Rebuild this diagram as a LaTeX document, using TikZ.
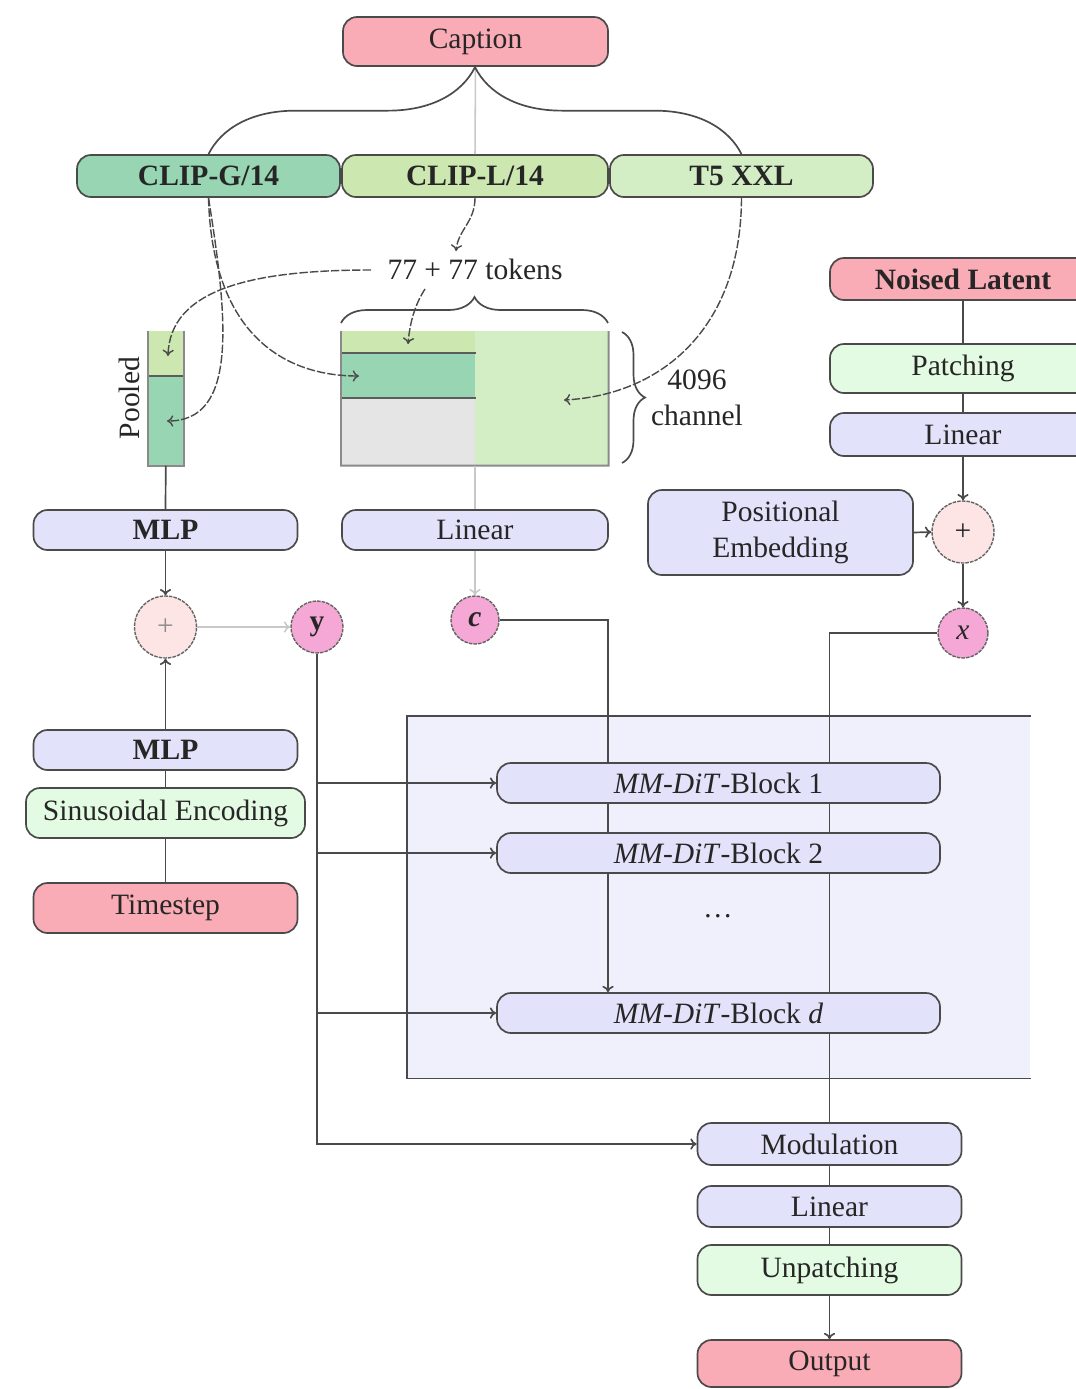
\documentclass[tikz,border=0pt]{standalone}
\usepackage{fontspec}
\setmainfont{Liberation Serif}
\usetikzlibrary{arrows.meta,decorations.pathreplacing}

\definecolor{edge}{HTML}{4A4A4A}
\definecolor{lightedge}{HTML}{C8C8C8}
\definecolor{pinkc}{HTML}{F9ABB6}
\definecolor{lavc}{HTML}{E2E3FA}
\definecolor{grnc}{HTML}{E3FBE3}
\definecolor{clipgc}{HTML}{97D5B3}
\definecolor{cliplc}{HTML}{CDE7B0}
\definecolor{tfivec}{HTML}{D3EDC5}
\definecolor{padc}{HTML}{E5E5E5}
\definecolor{ditc}{HTML}{EFF0FC}
\definecolor{circc}{HTML}{F5A8D5}
\definecolor{plusc}{HTML}{FDE5E6}
\definecolor{framec}{HTML}{8A8A8A}

\newdimen\pu
\pu=0.025cm

\tikzset{
  every node/.style={font=\fontsize{21}{26}\selectfont, text=black!85},
  blk/.style={draw=edge, line width=1.2pt, rounded corners=0.35cm, inner sep=0pt},
  pinkbox/.style={blk, fill=pinkc},
  lavbox/.style={blk, fill=lavc},
  grnbox/.style={blk, fill=grnc},
  bf/.style={font=\fontsize{21}{26}\selectfont\bfseries},
  circ/.style={circle, draw=edge!85, line width=1pt, dash pattern=on 2.5pt off 0.8pt, inner sep=0pt},
  cell/.style={inner sep=0pt, anchor=north west},
  conn/.style={draw=edge, line width=1.2pt},
  lightconn/.style={draw=lightedge, line width=1.1pt},
  dashconn/.style={draw=edge, line width=1pt, dash pattern=on 6pt off 1.5pt},
  cellframe/.style={draw=framec, line width=1.4pt},
  cellsep/.style={draw=edge!90, line width=1.6pt},
  >={To[length=4.5pt,width=8pt]}
}

\begin{document}
\begin{tikzpicture}[x=0.025cm, y=-0.025cm]
\useasboundingbox (0,0) rectangle (1076,1389);
\clip (0,0) rectangle (1076,1389);

% ---------- background panel of the transformer blocks
\node[cell, fill=ditc, minimum width=623\pu, minimum height=362\pu] (dit) at (407,716) {};
\draw[conn] (dit.north east) -- (dit.north west) -- (dit.south west) -- (dit.south east);

% ---------- text encoders
\node[pinkbox, minimum width=265\pu, minimum height=49\pu] (caption) at (475.5,41.5) {Caption};
\node[blk, fill=clipgc, bf, minimum width=263\pu, minimum height=42\pu] (clipg) at (208.5,176) {CLIP-G/14};
\node[blk, fill=cliplc, bf, minimum width=266\pu, minimum height=42\pu] (clipl) at (475,176) {CLIP-L/14};
\node[blk, fill=tfivec, bf, minimum width=263\pu, minimum height=42\pu] (tfive) at (741.5,176) {T5 XXL};

\draw[lightconn] (caption.south) -- (clipl.north);
\draw[conn, decorate, decoration={brace, amplitude=87\pu}] (clipg.north) -- (tfive.north);

% ---------- token matrix
\node[cell, fill=tfivec, minimum width=133\pu, minimum height=134\pu] (tokT) at (475,331) {};
\node[cell, fill=cliplc, minimum width=134\pu, minimum height=22\pu] (tokL) at (341,331) {};
\node[cell, fill=clipgc, minimum width=134\pu, minimum height=45\pu] (tokG) at (341,353) {};
\node[cell, fill=padc, minimum width=134\pu, minimum height=67\pu] (tokP) at (341,398) {};
\draw[cellsep] (tokG.north west) -- (tokG.north east);
\draw[cellsep] (tokP.north west) -- (tokP.north east);
\draw[cellframe] (tokL.north west) -- (tokP.south west) -- (tokT.south east) -- (tokT.north east);

\draw[conn, decorate, decoration={brace, amplitude=26\pu}] (341,323) -- (608,323);
\draw[conn, decorate, decoration={brace, amplitude=23\pu}] (622,332) -- (622,463);
\node[align=center] (chan) at (697,398) {4096\\channel};
\node (tok) at (475,269) {77 + 77 tokens};

% ---------- pooled vector
\node[cell, fill=cliplc, minimum width=35\pu, minimum height=45\pu] (poolL) at (148,331) {};
\node[cell, fill=clipgc, minimum width=35\pu, minimum height=89\pu] (poolG) at (148,376) {};
\draw[cellsep] (poolG.north west) -- (poolG.north east);
\draw[cellframe] (poolL.north west) -- (poolG.south west) -- (poolG.south east) -- (poolL.north east);
\node[rotate=90] (poollbl) at (129,398) {Pooled};

% ---------- routing of encoder outputs
\coordinate (gIn) at (359,376);
\coordinate (tIn) at (564,400);
\coordinate (pTop) at (168,356);
\coordinate (pBot) at (167,421);
\coordinate (tokTop) at (456,251);
\coordinate (tokBot) at (425,289);
\coordinate (tokW) at (371,270);
\coordinate (lIn) at (408,344);
\draw[dashconn, ->] (clipg.south) .. controls (212,330) and (280,376) .. (gIn);
\draw[dashconn, ->] (clipg.south) .. controls (228,320) and (238,421) .. (pBot);
\draw[dashconn, ->] (tfive.south) .. controls (741,330) and (660,395) .. (tIn);
\draw[dashconn, ->] (clipl.south) .. controls (475,222) and (458,230) .. (tokTop);
\draw[dashconn, ->] (tokW) .. controls (250,270) and (170,290) .. (pTop);
\draw[dashconn, ->] (tokBot) .. controls (416,303) and (410,320) .. (lIn);

% ---------- pooled / timestep branch
\node[lavbox, bf, minimum width=264\pu, minimum height=40\pu] (mlpa) at (165.5,530) {MLP};
\node[circ, fill=plusc, minimum size=62\pu, text=black!45] (plusa) at (165.5,627) {+};
\node[circ, fill=circc, minimum size=52\pu] (yv) at (317,627) {\textbf{y}};
\node[lavbox, bf, minimum width=264\pu, minimum height=40\pu] (mlpb) at (165.5,750) {MLP};
\node[grnbox, minimum width=279\pu, minimum height=50\pu] (sinus) at (165.5,813) {Sinusoidal Encoding};
\node[pinkbox, minimum width=264\pu, minimum height=50\pu] (tstep) at (165.5,908) {Timestep};

\draw[conn] (poolG.south) -- (mlpa.north);
\draw[conn, ->] (mlpa.south) -- (plusa.north);
\draw[conn, ->] (mlpb.north) -- (plusa.south);
\draw[conn] (sinus.north) -- (mlpb.south);
\draw[conn] (tstep.north) -- (sinus.south);
\draw[lightconn, ->] (plusa.east) -- (yv.west);

% ---------- context branch
\node[lavbox, minimum width=266\pu, minimum height=40\pu] (linc) at (475,530) {Linear};
\node[circ, fill=circc, minimum size=48\pu] (cv) at (475,620) {\textbf{\textit{c}}};
\draw[lightconn] (tokT.south west) -- (linc.north);
\draw[lightconn, ->] (linc.south) -- (cv.north);

% ---------- latent branch
\node[pinkbox, bf, minimum width=266\pu, minimum height=42\pu] (noised) at (963,279) {Noised Latent};
\node[grnbox, minimum width=266\pu, minimum height=49\pu] (patch) at (963,368.5) {Patching};
\node[lavbox, minimum width=266\pu, minimum height=43\pu] (linx) at (963,434.5) {Linear};
\node[circ, fill=plusc, minimum size=62\pu] (plusb) at (963,532) {+};
\node[lavbox, align=center, minimum width=265\pu, minimum height=85\pu] (pe) at (780.5,532.5) {Positional\\Embedding};
\node[circ, fill=circc, minimum size=50\pu] (xv) at (963,633) {\textit{x}};

\draw[conn] (noised.south) -- (patch.north);
\draw[conn] (patch.south) -- (linx.north);
\draw[conn, ->] (linx.south) -- (plusb.north);
\draw[conn, ->] (pe.east) -- (plusb.west);
\draw[conn, ->] (plusb.south) -- (xv.north);

% ---------- transformer blocks
\node[lavbox, minimum width=443\pu, minimum height=40\pu] (ba) at (718.5,783) {\textit{MM-DiT}-Block 1};
\node[lavbox, minimum width=443\pu, minimum height=40\pu] (bb) at (718.5,853) {\textit{MM-DiT}-Block 2};
\node (dots) at (718,916) {\dots};
\node[lavbox, minimum width=443\pu, minimum height=40\pu] (bd) at (718.5,1013) {\textit{MM-DiT}-Block \textit{d}};

% ---------- output head
\node[lavbox, minimum width=264\pu, minimum height=42\pu] (modu) at (829.5,1144) {Modulation};
\node[lavbox, minimum width=264\pu, minimum height=41\pu] (lino) at (829.5,1206.5) {Linear};
\node[grnbox, minimum width=264\pu, minimum height=50\pu] (unp) at (829.5,1270) {Unpatching};
\node[pinkbox, minimum width=264\pu, minimum height=47\pu] (outp) at (829.5,1363.5) {Output};

% c stream
\coordinate (cLane) at (608,620);
\draw[conn] (cv.east) -- (cLane) -- (cLane |- ba.north);
\draw[conn] (cLane |- ba.south) -- (cLane |- bb.north);
\draw[conn, ->] (cLane |- bb.south) -- (cLane |- bd.north);

% x stream
\coordinate (xLane) at (829.5,633);
\draw[conn] (xv.west) -- (xLane) -- (xLane |- ba.north);
\draw[conn] (xLane |- ba.south) -- (xLane |- bb.north);
\draw[conn] (xLane |- bb.south) -- (xLane |- bd.north);
\draw[conn] (xLane |- bd.south) -- (modu.north);

% y conditioning
\draw[conn, ->] (yv.south) |- (modu.west);
\draw[conn, ->] (yv.south |- ba.west) -- (ba.west);
\draw[conn, ->] (yv.south |- bb.west) -- (bb.west);
\draw[conn, ->] (yv.south |- bd.west) -- (bd.west);

\draw[conn] (modu.south) -- (lino.north);
\draw[conn] (lino.south) -- (unp.north);
\draw[conn, ->] (unp.south) -- (outp.north);
\end{tikzpicture}
\end{document}
